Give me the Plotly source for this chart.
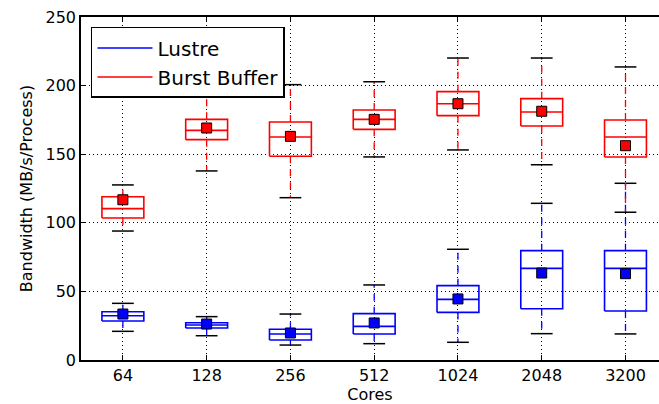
import plotly.graph_objects as go

# Core counts on the x axis
cores = ["64", "128", "256", "512", "1024", "2048", "3200"]

# Lustre per-process bandwidth statistics (MB/s/Process)
lustre_whislo = [20.9, 17.7, 10.9, 11.9, 12.9, 19.2, 19.0]
lustre_q1 = [28.4, 23.3, 14.6, 19.0, 34.7, 37.4, 35.7]
lustre_med = [32.3, 25.5, 19.0, 24.5, 44.2, 66.8, 66.8]
lustre_q3 = [35.2, 27.2, 22.4, 33.8, 54.2, 79.7, 79.7]
lustre_whishi = [41.3, 31.6, 33.5, 54.7, 80.7, 114.2, 128.8]
lustre_mean = [33.5, 26.2, 19.7, 27.0, 44.5, 63.4, 62.9]

# Burst Buffer per-process bandwidth statistics (MB/s/Process)
bb_whislo = [94.0, 137.8, 118.3, 148.0, 153.1, 142.3, 107.7]
bb_q1 = [103.5, 160.6, 148.5, 168.1, 178.1, 170.6, 148.0]
bb_med = [110.3, 167.4, 162.5, 175.4, 186.8, 180.8, 162.5]
bb_q3 = [119.0, 175.4, 173.5, 182.2, 195.6, 190.5, 174.9]
bb_whishi = [127.6, 192.4, 200.7, 202.8, 220.1, 220.1, 213.6]
bb_mean = [116.8, 169.1, 163.0, 175.4, 186.8, 181.3, 156.2]

BOX_HALF = 0.25
CAP_HALF = 0.13
FONT = "DejaVu Sans"

fig = go.Figure()


def add_boxes(name, color, whislo, q1, med, q3, whishi, mean):
    pos = list(range(len(cores)))
    bx, by, mx, my, wx, wy, cx, cy = [], [], [], [], [], [], [], []
    for i in pos:
        l, r = i - BOX_HALF, i + BOX_HALF
        bx += [l, r, r, l, l, None]
        by += [q1[i], q1[i], q3[i], q3[i], q1[i], None]
        mx += [l, r, None]
        my += [med[i], med[i], None]
        wx += [i, i, None, i, i, None]
        wy += [q1[i], whislo[i], None, q3[i], whishi[i], None]
        cx += [i - CAP_HALF, i + CAP_HALF, None, i - CAP_HALF, i + CAP_HALF, None]
        cy += [whislo[i], whislo[i], None, whishi[i], whishi[i], None]
    # dashed whiskers
    fig.add_trace(go.Scatter(x=wx, y=wy, mode="lines", showlegend=False, hoverinfo="skip",
                             line=dict(color=color, width=1.3, dash="7px,6px")))
    # black caps
    fig.add_trace(go.Scatter(x=cx, y=cy, mode="lines", showlegend=False, hoverinfo="skip",
                             line=dict(color="black", width=1.5)))
    # box outline
    fig.add_trace(go.Scatter(x=bx, y=by, mode="lines", name=name, showlegend=True,
                             line=dict(color=color, width=1.6)))
    # median line
    fig.add_trace(go.Scatter(x=mx, y=my, mode="lines", showlegend=False, hoverinfo="skip",
                             line=dict(color=color, width=1.6)))
    # mean marker
    fig.add_trace(go.Scatter(x=pos, y=mean, mode="markers", showlegend=False,
                             marker=dict(symbol="square", size=10, color=color,
                                         line=dict(color="black", width=1))))


add_boxes("Lustre", "#0000ff", lustre_whislo, lustre_q1, lustre_med, lustre_q3,
          lustre_whishi, lustre_mean)
add_boxes("Burst Buffer", "#ff0000", bb_whislo, bb_q1, bb_med, bb_q3, bb_whishi, bb_mean)

fig.update_layout(
    width=659, height=404,
    margin=dict(l=81, r=0, t=17, b=44),
    paper_bgcolor="white", plot_bgcolor="white",
    font=dict(family=FONT, size=16, color="black"),
    legend=dict(x=0.0173, y=0.971, xanchor="left", yanchor="top",
                bgcolor="white", bordercolor="black", borderwidth=1.5,
                font=dict(family=FONT, size=20), itemwidth=55,
                tracegroupgap=0),
)
fig.update_xaxes(
    range=[-0.5, 6.4], tickmode="array", tickvals=list(range(len(cores))), ticktext=cores,
    tickfont=dict(family=FONT, size=16),
    showline=True, linecolor="black", linewidth=1.5, mirror="ticks",
    ticks="inside", ticklen=5, tickcolor="black", tickwidth=1,
    showgrid=True, gridcolor="black", gridwidth=1, griddash="1px,3px",
    zeroline=False,
    title=dict(text="Cores", font=dict(family=FONT, size=16), standoff=6),
)
fig.update_yaxes(
    range=[0, 250], tickvals=[0, 50, 100, 150, 200, 250],
    tickfont=dict(family=FONT, size=16),
    showline=True, linecolor="black", linewidth=1.5,
    ticks="inside", ticklen=5, tickcolor="black", tickwidth=1,
    showgrid=True, gridcolor="black", gridwidth=1, griddash="1px,3px",
    zeroline=False,
    title=dict(text="Bandwidth (MB/s/Process)", font=dict(family=FONT, size=16), standoff=9),
)

fig.write_html("out.html")
